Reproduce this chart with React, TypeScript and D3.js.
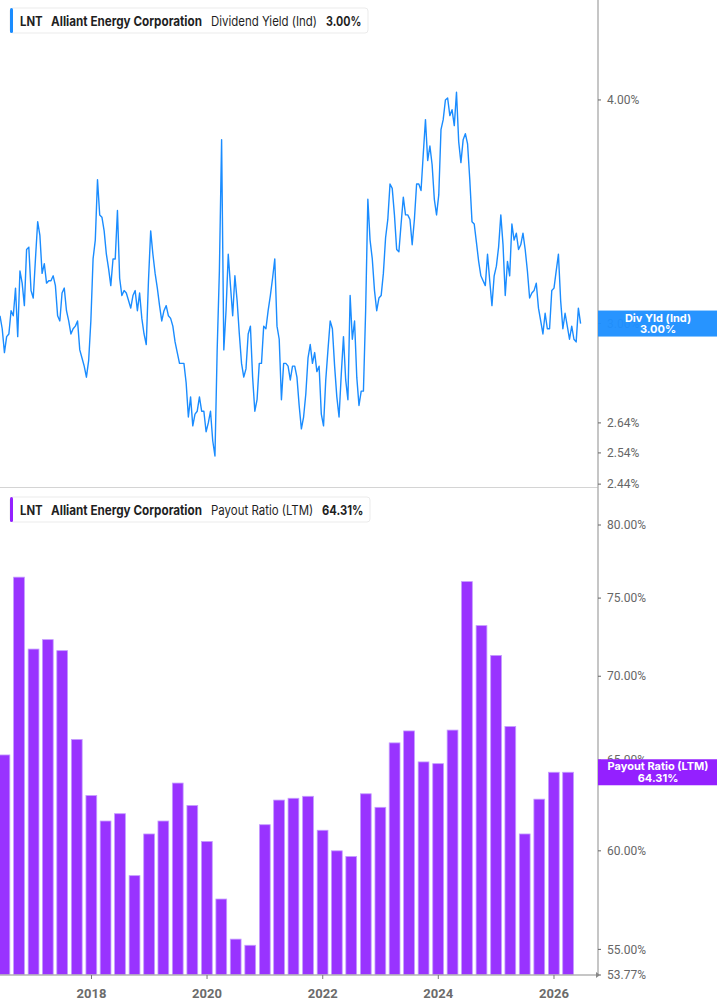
import * as d3 from "d3";

// Dividend yield (Ind), %, sampled every two weeks from the first point
const yieldStart = "2016-06-02";
const yieldStepDays = 14;
const yieldValues = [
  3.03, 2.98, 2.89, 2.95, 2.96, 3.05, 3.03, 3.14, 2.95, 3.21,
  3.16, 3.07, 3.30, 3.31, 3.13, 3.10, 3.26, 3.42, 3.36, 3.20,
  3.24, 3.16, 3.17, 3.17, 3.19, 3.15, 3.03, 3.01, 3.12, 3.14,
  3.05, 3.01, 2.96, 2.98, 2.99, 3.01, 2.90, 2.87, 2.84, 2.80,
  2.86, 3.01, 3.26, 3.34, 3.61, 3.45, 3.44, 3.38, 3.28, 3.22,
  3.15, 3.26, 3.26, 3.47, 3.18, 3.11, 3.13, 3.12, 3.09, 3.06,
  3.11, 3.13, 3.05, 3.12, 3.02, 2.96, 2.92, 3.17, 3.38, 3.28,
  3.20, 3.14, 3.07, 3.01, 3.05, 3.07, 3.03, 3.02, 2.99, 2.93,
  2.89, 2.85, 2.85, 2.85, 2.78, 2.66, 2.73, 2.63, 2.67, 2.68,
  2.73, 2.68, 2.68, 2.61, 2.64, 2.68, 2.58, 2.53, 2.90, 3.21,
  3.80, 2.90, 3.05, 3.28, 3.15, 3.03, 3.19, 3.09, 2.96, 2.85,
  2.80, 2.83, 2.96, 2.99, 2.80, 2.68, 2.72, 2.85, 2.85, 2.99,
  2.98, 3.05, 3.11, 3.18, 3.26, 2.99, 2.94, 2.72, 2.85, 2.85,
  2.84, 2.79, 2.84, 2.84, 2.80, 2.70, 2.62, 2.66, 2.74, 2.87,
  2.92, 2.85, 2.89, 2.82, 2.84, 2.67, 2.63, 2.79, 2.90, 3.01,
  2.98, 2.84, 2.73, 2.66, 2.81, 2.95, 2.79, 2.72, 3.11, 2.94,
  3.01, 2.80, 2.70, 2.75, 2.75, 3.05, 3.52, 3.34, 3.26, 3.13,
  3.05, 3.10, 3.11, 3.20, 3.35, 3.43, 3.59, 3.57, 3.45, 3.30,
  3.29, 3.41, 3.53, 3.45, 3.45, 3.43, 3.32, 3.43, 3.59, 3.59,
  3.56, 3.73, 3.90, 3.70, 3.77, 3.68, 3.52, 3.45, 3.54, 3.85,
  3.90, 4.00, 4.01, 3.92, 3.95, 3.87, 4.04, 3.79, 3.69, 3.80,
  3.83, 3.78, 3.61, 3.42, 3.41, 3.33, 3.25, 3.19, 3.17, 3.15,
  3.28, 3.17, 3.07, 3.19, 3.23, 3.31, 3.45, 3.32, 3.11, 3.25,
  3.19, 3.41, 3.34, 3.37, 3.30, 3.32, 3.37, 3.30, 3.21, 3.10,
  3.12, 3.13, 3.16, 3.06, 3.01, 2.96, 3.04, 2.98, 2.98, 3.13,
  3.14, 3.21, 3.28, 3.09, 2.98, 3.04, 2.99, 2.94, 2.99, 2.94,
  2.93, 3.06, 3.00,
];

// Payout ratio (LTM), %, one bar per quarter end
const quarterEnds = [
  "2016-06-30", "2016-09-30", "2016-12-31",
  "2017-03-31", "2017-06-30", "2017-09-30", "2017-12-31",
  "2018-03-31", "2018-06-30", "2018-09-30", "2018-12-31",
  "2019-03-31", "2019-06-30", "2019-09-30", "2019-12-31",
  "2020-03-31", "2020-06-30", "2020-09-30", "2020-12-31",
  "2021-03-31", "2021-06-30", "2021-09-30", "2021-12-31",
  "2022-03-31", "2022-06-30", "2022-09-30", "2022-12-31",
  "2023-03-31", "2023-06-30", "2023-09-30", "2023-12-31",
  "2024-03-31", "2024-06-30", "2024-09-30", "2024-12-31",
  "2025-03-31", "2025-06-30", "2025-09-30", "2025-12-31",
  "2026-03-31",
];
const payoutValues = [
  65.3, 76.4, 71.7, 72.3, 71.6, 66.2, 63.0, 61.6, 62.0, 58.7,
  60.9, 61.6, 63.7, 62.45, 60.5, 57.5, 55.5, 55.2, 61.4, 62.75,
  62.85, 62.96, 61.1, 60.0, 59.7, 63.1, 62.35, 66.0, 66.7, 64.9,
  64.8, 66.75, 76.1, 73.2, 71.3, 66.96, 60.9, 62.8, 64.31, 64.31,
];

const yieldTicks = [4.0, 3.0, 2.64, 2.54, 2.44];
const payoutTicks = [80, 75, 70, 65, 60, 55, 53.77];
const yearTicks = [2018, 2020, 2022, 2024, 2026];

const W = 717;
const H = 1005;
const plotRight = 598;
const topBottom = 487;
const botBottom = 975;

const BLUE = "#1a8cff";
const PURPLE = "#9933ff";
const LEGEND_FONT = "Inter, Roboto, sans-serif";
const AXIS_FONT = "Roboto, 'Open Sans', sans-serif";

const parse = d3.timeParse("%Y-%m-%d");

export default function App() {
  const x = d3
    .scaleTime()
    .domain([new Date(2016, 5, 2), new Date(2026, 9, 6)])
    .range([0, plotRight]);

  const yTop = d3.scaleLog().domain([2.431, 4.549]).range([topBottom, 0]);
  const yBot = d3.scaleLog().domain([53.77, 82.73]).range([botBottom, topBottom]);

  const start = parse(yieldStart) as Date;
  const yieldData: [Date, number][] = yieldValues.map((v, i) => [
    d3.timeDay.offset(start, i * yieldStepDays),
    v,
  ]);
  const line = d3
    .line<[Date, number]>()
    .x((d) => x(d[0]))
    .y((d) => yTop(d[1]));

  const bars = quarterEnds.map((q, i) => ({ date: parse(q) as Date, value: payoutValues[i] }));
  const step = x(bars[1].date) - x(bars[0].date);
  const barW = step * 0.74;

  const lastYield = yieldValues[yieldValues.length - 1];
  const lastPayout = payoutValues[payoutValues.length - 1];

  const legend = (
    y: number,
    color: string,
    metric: string,
    metricLen: number,
    value: string,
    valueX: number,
    valueLen: number,
    w: number
  ) => (
    <g>
      <rect x={10} y={y} width={w} height={25} rx={3} fill="#fff" stroke="#ebebeb" />
      <rect x={10} y={y} width={3} height={25} rx={1.5} fill={color} />
      <g fontFamily={LEGEND_FONT} fontSize={13} fill="#1f1f1f">
        <text x={20} y={y + 17.5} fontWeight={700} textLength={22.7} lengthAdjust="spacingAndGlyphs">
          LNT
        </text>
        <text x={51} y={y + 17.5} fontWeight={700} textLength={151} lengthAdjust="spacingAndGlyphs">
          Alliant Energy Corporation
        </text>
        <text x={211} y={y + 17.5} fontWeight={400} textLength={metricLen} lengthAdjust="spacingAndGlyphs">
          {metric}
        </text>
        <text x={valueX} y={y + 17.5} fontWeight={700} textLength={valueLen} lengthAdjust="spacingAndGlyphs">
          {value}
        </text>
      </g>
    </g>
  );

  return (
    <svg
      width={W}
      height={H}
      style={{ position: "absolute", left: 0, top: 0, display: "block", background: "#fff" }}
    >
      <defs>
        <clipPath id="clipTop">
          <rect x={0} y={0} width={plotRight} height={topBottom} />
        </clipPath>
        <clipPath id="clipBot">
          <rect x={0} y={topBottom} width={plotRight} height={botBottom - topBottom} />
        </clipPath>
      </defs>

      {/* panel separator */}
      <line x1={0} x2={plotRight} y1={topBottom + 0.5} y2={topBottom + 0.5} stroke="#d4d4d4" />

      {/* dividend yield line */}
      <g clipPath="url(#clipTop)">
        <path d={line(yieldData) || undefined} fill="none" stroke={BLUE} strokeWidth={1.4} strokeLinejoin="round" />
      </g>

      {/* payout ratio bars */}
      <g clipPath="url(#clipBot)">
        {bars.map((b, i) => (
          <rect
            key={i}
            x={x(b.date) - barW / 2}
            y={yBot(b.value)}
            width={barW}
            height={botBottom - yBot(b.value)}
            fill={PURPLE}
            stroke="#c49cff"
            strokeWidth={0.8}
          />
        ))}
      </g>

      {/* right axis */}
      <line x1={plotRight} x2={plotRight} y1={0} y2={botBottom} stroke="#b3b3b3" strokeWidth={1.5} />
      <g fontFamily={AXIS_FONT} fontSize={12} fill="#666">
        {yieldTicks.map((t) => (
          <g key={"yt" + t} transform={`translate(${plotRight},${yTop(t)})`}>
            <line x1={0} x2={3} stroke="#666" />
            <text x={9} dy="0.35em">{t.toFixed(2)}%</text>
          </g>
        ))}
        {payoutTicks.map((t) => (
          <g key={"pt" + t} transform={`translate(${plotRight},${yBot(t)})`}>
            <line x1={0} x2={3} stroke="#666" />
            <text x={9} dy="0.35em">{t.toFixed(2)}%</text>
          </g>
        ))}
      </g>

      {/* bottom axis */}
      <line x1={0} x2={plotRight} y1={botBottom} y2={botBottom} stroke="#b3b3b3" strokeWidth={1.5} />
      <path
        d={`M${plotRight - 2},${botBottom - 3}L${plotRight + 2},${botBottom}L${plotRight - 2},${botBottom + 3}Z`}
        fill="#888"
      />
      <g fontFamily={AXIS_FONT} fontSize={13} fontWeight={700} fill="#6b6b6b">
        {yearTicks.map((yr) => {
          const px = x(new Date(yr, 0, 1));
          return (
            <g key={yr} transform={`translate(${px},${botBottom})`}>
              <line y1={0} y2={4} stroke="#777" />
              <text y={23} textAnchor="middle">
                {yr}
              </text>
            </g>
          );
        })}
      </g>

      {/* last value labels */}
      <g fontFamily={LEGEND_FONT} fontSize={11} fontWeight={700} fill="#fff" textAnchor="middle">
        <rect x={plotRight} y={yTop(lastYield) - 13} width={W - plotRight} height={26} fill="#1e90ff" fillOpacity={0.96} />
        <text x={658} y={yTop(lastYield) - 2}>Div Yld (Ind)</text>
        <text x={658} y={yTop(lastYield) + 9.5}>{lastYield.toFixed(2)}%</text>
        <rect x={plotRight} y={yBot(lastPayout) - 13} width={W - plotRight} height={26} fill="#9420ff" />
        <text x={658} y={yBot(lastPayout) - 2}>Payout Ratio (LTM)</text>
        <text x={658} y={yBot(lastPayout) + 9.5}>{lastPayout.toFixed(2)}%</text>
      </g>

      {/* legends */}
      {legend(8, BLUE, "Dividend Yield (Ind)", 106, `${lastYield.toFixed(2)}%`, 326, 35.3, 358)}
      {legend(497, "#9420ff", "Payout Ratio (LTM)", 102.3, `${lastPayout.toFixed(2)}%`, 322, 41.3, 360)}
    </svg>
  );
}
